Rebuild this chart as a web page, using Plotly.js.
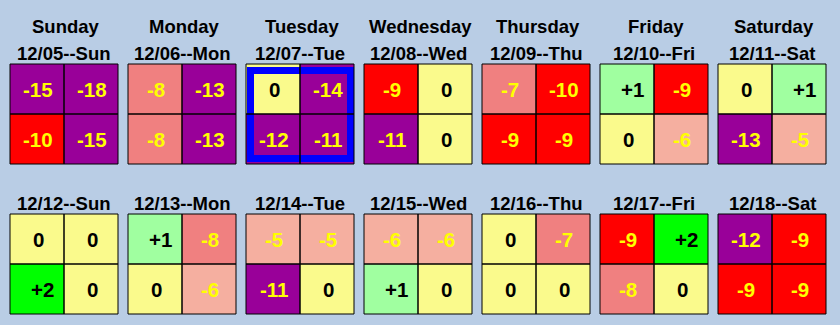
<!DOCTYPE html>
<html>
<head>
<meta charset="utf-8">
<script src="https://cdn.plot.ly/plotly-3.0.1.min.js"></script>
<style>html,body{margin:0;padding:0;background:#B9CDE5;}</style>
</head>
<body>
<div id="chart" style="width:840px;height:325px;"></div>
<script>
// ---- data ----
const dayNames = ['Sunday','Monday','Tuesday','Wednesday','Thursday','Friday','Saturday'];
const week1Dates = ['12/05--Sun','12/06--Mon','12/07--Tue','12/08--Wed','12/09--Thu','12/10--Fri','12/11--Sat'];
const week2Dates = ['12/12--Sun','12/13--Mon','12/14--Tue','12/15--Wed','12/16--Thu','12/17--Fri','12/18--Sat'];
// each cell: [top-left, top-right, bottom-left, bottom-right]
const week1Values = [
  [-15,-18,-10,-15],
  [-8,-13,-8,-13],
  [0,-14,-12,-11],
  [-9,0,-11,0],
  [-7,-10,-9,-9],
  [1,-9,0,-6],
  [0,1,-13,-5]
];
const week2Values = [
  [0,0,2,0],
  [1,-8,0,-6],
  [-5,-5,-11,0],
  [-6,-6,1,0],
  [0,-7,0,0],
  [-9,2,-8,0],
  [-12,-9,-9,-9]
];
const highlightDate = '12/07--Tue';

// ---- styling / layout ----
const W = 840, H = 325;
const colPitch = 118, rowPitch = 150;
const cellHalfW = 54 / colPitch, cellHalfH = 50 / rowPitch;
const xRange = [-64 / colPitch, -64 / colPitch + W / colPitch];
const yRange = [(H - 114) / rowPitch, -114 / rowPitch];

function fillColor(v) {
  if (v <= -11) return '#990099';
  if (v <= -9) return '#FF0000';
  if (v <= -7) return '#F08080';
  if (v < 0) return '#F5AFA0';
  if (v === 0) return '#FAFA8C';
  if (v === 1) return '#A0FFA0';
  return '#00FF00';
}
function label(v) { return v > 0 ? '+' + v : String(v); }

const weeks = [
  {dates: week1Dates, values: week1Values},
  {dates: week2Dates, values: week2Values}
];

const fills = [], outlines = [], highlights = [], annotations = [];
const fontBase = {family: 'Liberation Sans, Arial, sans-serif', weight: 'bold'};

dayNames.forEach((d, c) => {
  annotations.push({
    x: c, y: -cellHalfH, xref: 'x', yref: 'y', text: d, showarrow: false,
    xanchor: 'center', yanchor: 'middle', yshift: 38, xshift: 2,
    font: Object.assign({}, fontBase, {size: 18.5, color: '#000'})
  });
});

weeks.forEach((wk, r) => {
  wk.dates.forEach((dt, c) => {
    annotations.push({
      x: c, y: r - cellHalfH, xref: 'x', yref: 'y', text: dt, showarrow: false,
      xanchor: 'center', yanchor: 'middle', yshift: 11,
      font: Object.assign({}, fontBase, {size: 18.5, color: '#000'})
    });
    const vals = wk.values[c];
    vals.forEach((v, i) => {
      const sx = i % 2, sy = Math.floor(i / 2);
      const x0 = c - cellHalfW + sx * cellHalfW, x1 = x0 + cellHalfW;
      const y0 = r - cellHalfH + sy * cellHalfH, y1 = y0 + cellHalfH;
      fills.push({type: 'rect', xref: 'x', yref: 'y', x0, x1, y0, y1,
        fillcolor: fillColor(v), line: {width: 0}, layer: 'above'});
      outlines.push({type: 'rect', xref: 'x', yref: 'y', x0, x1, y0, y1,
        fillcolor: 'rgba(0,0,0,0)', line: {color: '#000', width: 1}, layer: 'above'});
      annotations.push({
        x: (x0 + x1) / 2, y: (y0 + y1) / 2, xref: 'x', yref: 'y',
        text: label(v), showarrow: false, xanchor: 'center', yanchor: 'middle',
        xshift: v > 0 ? 5 : 1,
        font: Object.assign({}, fontBase, {size: 20.5, color: v < 0 ? '#FFFF00' : '#000'})
      });
    });
    if (dt === highlightDate) {
      highlights.push({type: 'rect', xref: 'x', yref: 'y',
        x0: c - cellHalfW + 4.5 / colPitch, x1: c + cellHalfW - 3.5 / colPitch,
        y0: r - cellHalfH + 6.5 / rowPitch, y1: r + cellHalfH - 5.5 / rowPitch,
        fillcolor: 'rgba(0,0,0,0)', line: {color: '#0000FF', width: 7}, layer: 'above'});
    }
  });
});

const layout = {
  width: W, height: H,
  margin: {l: 0, r: 0, t: 0, b: 0, pad: 0},
  paper_bgcolor: '#B9CDE5', plot_bgcolor: '#B9CDE5',
  xaxis: {range: xRange, visible: false, fixedrange: true},
  yaxis: {range: yRange, visible: false, fixedrange: true},
  showlegend: false,
  shapes: fills.concat(highlights, outlines),
  annotations: annotations
};

Plotly.newPlot('chart', [{x: [], y: [], type: 'scatter', mode: 'markers', hoverinfo: 'skip'}], layout,
  {staticPlot: true, displayModeBar: false});
</script>
</body>
</html>
